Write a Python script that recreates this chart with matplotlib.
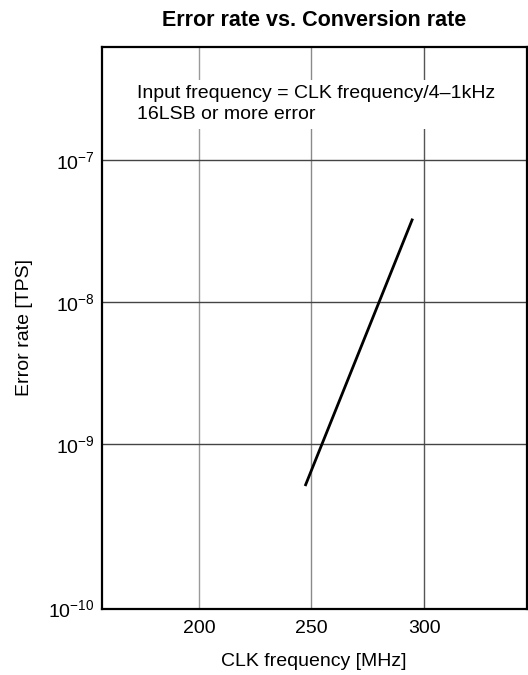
import matplotlib
matplotlib.use("Agg")
import matplotlib.pyplot as plt

plt.rcParams['font.family'] = ['Liberation Sans', 'DejaVu Sans']
plt.rcParams['mathtext.fontset'] = 'custom'
plt.rcParams['mathtext.rm'] = 'Liberation Sans'
plt.rcParams['mathtext.it'] = 'Liberation Sans'

# Data
clk_mhz = [247.4, 294.7]
error_rate = [5.2e-10, 3.8e-8]
x_ticks = [200, 250, 300]
y_ticks = [10**-10.155, 1e-9, 1e-8, 1e-7]
y_tick_labels = [r'$10^{-10}$', r'$10^{-9}$', r'$10^{-8}$', r'$10^{-7}$']
title = 'Error rate vs. Conversion rate'
note = 'Input frequency = CLK frequency/4\u20131kHz\n16LSB or more error'

fig = plt.figure(figsize=(5.28, 6.75), dpi=100)
ax = fig.add_axes([0.1926, 0.0985, 0.8049, 0.8315])

ax.set_xscale('linear')
ax.set_yscale('log')
ax.set_xlim(156.8, 345.6)
ax.set_ylim(10**-10.155, 10**-6.205)

ax.set_xticks(x_ticks)
ax.set_xticklabels([str(v) for v in x_ticks], fontsize=14)
ax.set_yticks(y_ticks)
ax.set_yticklabels(y_tick_labels, fontsize=14)
ax.minorticks_off()
ax.tick_params(axis='x', length=0, pad=8)
ax.tick_params(axis='y', length=0, pad=5)

grid_colors = {200: '#9a9a9a', 250: '#8a8a8a', 300: '#555555'}
for xv in x_ticks:
    ax.axvline(xv, color=grid_colors[xv], lw=1.0, zorder=1)
for yv in y_ticks[1:]:
    ax.axhline(yv, color='#444444', lw=1.0, zorder=1)

ax.plot(clk_mhz, error_rate, color='black', lw=2.0, zorder=3)

for s in ax.spines.values():
    s.set_linewidth(1.6)
    s.set_color('black')

ax.set_xlabel('CLK frequency [MHz]', fontsize=14, labelpad=12)
ax.set_ylabel('Error rate [TPS]', fontsize=14, labelpad=11)
ax.set_title(title, fontsize=15.5, fontweight='bold', pad=15)

ax.text(0.083, 0.932, note, transform=ax.transAxes, fontsize=14,
        va='top', ha='left', linespacing=1.3, zorder=2,
        bbox=dict(facecolor='white', edgecolor='none', pad=4))

fig.savefig('out.png', dpi=100)
